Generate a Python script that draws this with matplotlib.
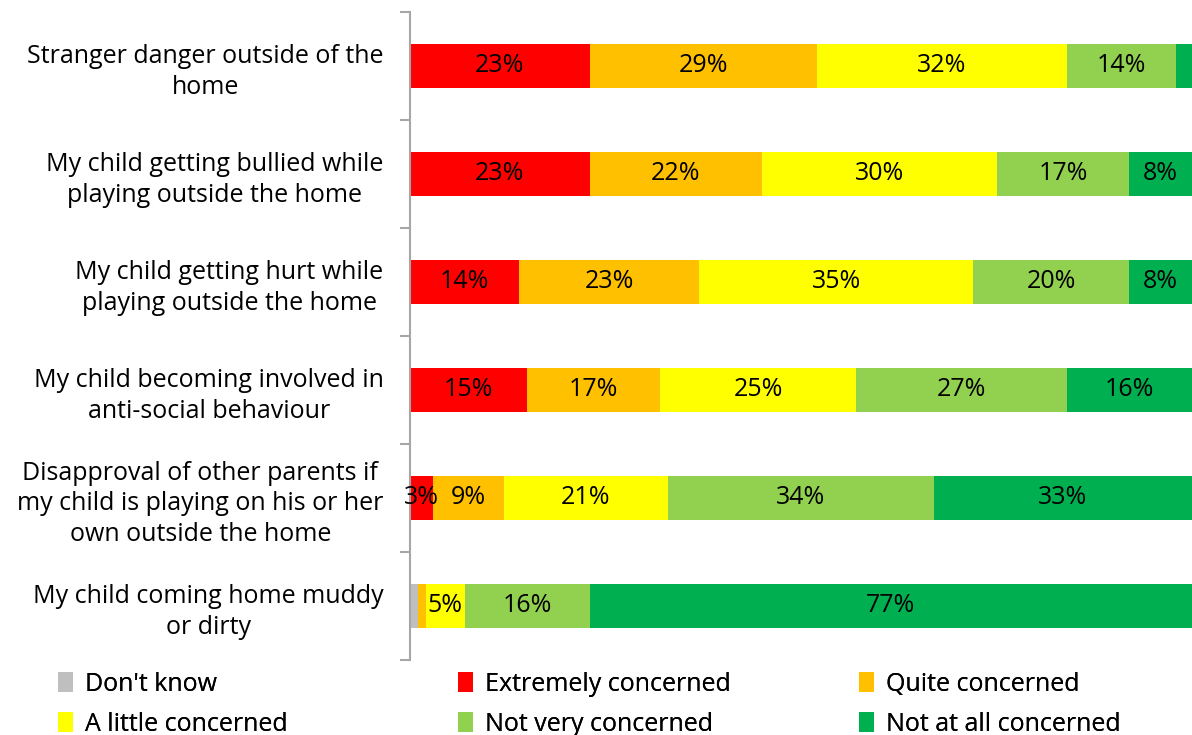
import numpy as np
import matplotlib.pyplot as plt
from matplotlib.patches import Patch

plt.rcParams['font.family'] = ['Open Sans', 'DejaVu Sans']

cats = ['Stranger danger outside of the\nhome',
        'My child getting bullied while\nplaying outside the home',
        'My child getting hurt while\nplaying outside the home',
        'My child becoming involved in\nanti-social behaviour',
        'Disapproval of other parents if\nmy child is playing on his or her\nown outside the home',
        'My child coming home muddy\nor dirty']
series = ["Don't know", 'Extremely concerned', 'Quite concerned',
          'A little concerned', 'Not very concerned', 'Not at all concerned']
dont_know = [0, 0, 0, 0, 0, 1]
extremely = [23, 23, 14, 15, 3, 0]
quite = [29, 22, 23, 17, 9, 1]
little = [32, 30, 35, 25, 21, 5]
not_very = [14, 17, 20, 27, 34, 16]
not_at_all = [2, 8, 8, 16, 33, 77]
col = ['#bfbfbf', '#ff0000', '#ffc000', '#ffff00', '#92d050', '#00b050']

data = [dont_know, extremely, quite, little, not_very, not_at_all]
fs = 18

fig = plt.figure(figsize=(11.92, 7.35), dpi=100)
ax = fig.add_axes([410/1192, 1-660/735, 1-410/1192, 648/735])
y = np.arange(len(cats))
left = np.zeros(len(cats))
for vals, c in zip(data, col):
    vals = np.array(vals, dtype=float)
    ax.barh(y, vals, left=left, height=0.41, color=c, linewidth=0)
    for yi, v, l in zip(y, vals, left):
        if v >= 3:
            ax.text(l + v/2, yi, f'{int(v)}%', ha='center', va='center', fontsize=fs)
    left += vals

ax.set_xlim(0, 100)
ax.set_ylim(len(cats)-0.5, -0.5)
ax.set_yticks(y)
ax.set_yticklabels(cats, fontsize=fs, linespacing=1.3, multialignment='center')
ax.set_yticks(np.arange(-0.5, len(cats)), minor=True)
ax.tick_params(axis='y', which='major', length=0, pad=19)
ax.tick_params(axis='y', which='minor', length=7, color='#a6a6a6', width=1.5, direction='out')
ax.set_xticks([])
for s in ['top', 'right', 'bottom']:
    ax.spines[s].set_visible(False)
ax.spines['left'].set_color('#a6a6a6')
ax.spines['left'].set_linewidth(1.5)

handles = [Patch(facecolor=c, edgecolor='none') for c in col]
# one legend per column, entries in reading order
for k, x0 in enumerate([40/1192, 440/1192, 841/1192]):
    leg = fig.legend([handles[k], handles[k+3]], [series[k], series[k+3]],
                     loc='lower left', bbox_to_anchor=(x0, -0.026), ncol=1,
                     frameon=False, fontsize=fs, handlelength=0.6, handleheight=0.9,
                     handletextpad=0.5, labelspacing=0.6, borderpad=0.2)
    fig.add_artist(leg)

fig.savefig('out.png', dpi=100)
